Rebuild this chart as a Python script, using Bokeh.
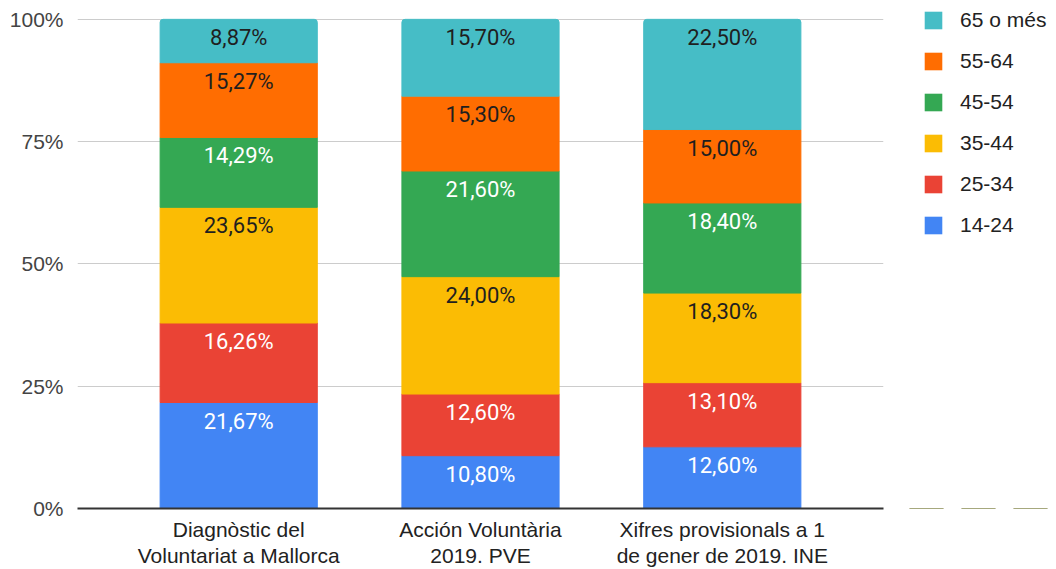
from bokeh.plotting import figure
from bokeh.layouts import row
from bokeh.models import ColumnDataSource, FactorRange, Legend, LegendItem, FixedTicker, Range1d
from bokeh.core.properties import value
from bokeh.embed import file_html
from bokeh.resources import INLINE

categories = ["Diagnòstic del\nVoluntariat a Mallorca",
              "Acción Voluntària\n2019. PVE",
              "Xifres provisionals a 1\nde gener de 2019. INE"]
age_groups = ["14-24", "25-34", "35-44", "45-54", "55-64", "65 o més"]
v_14_24 = [21.67, 10.80, 12.60]
v_25_34 = [16.26, 12.60, 13.10]
v_35_44 = [23.65, 24.00, 18.30]
v_45_54 = [14.29, 21.60, 18.40]
v_55_64 = [15.27, 15.30, 15.00]
v_65_mes = [8.87, 15.70, 22.50]
colors = ["#4285F4", "#EA4335", "#FBBC04", "#34A853", "#FF6D01", "#46BDC6"]
label_colors = ["#ffffff", "#ffffff", "#1f1f1f", "#ffffff", "#1f1f1f", "#1f1f1f"]
y_ticks = [0, 0.25, 0.5, 0.75, 1.0]
y_tick_labels = ["0%", "25%", "50%", "75%", "100%"]

series = [v_14_24, v_25_34, v_35_44, v_45_54, v_55_64, v_65_mes]
totals = [sum(s[j] for s in series) for j in range(len(categories))]

data = {"x": categories}
for name, s in zip(age_groups, series):
    data[name] = [s[j] / totals[j] for j in range(len(categories))]
src = ColumnDataSource(data)

# label positions: top of each segment
lx, ly, lt, lc = [], [], [], []
for j, cat in enumerate(categories):
    cum = 0.0
    for i, s in enumerate(series):
        cum += s[j] / totals[j]
        lx.append(cat)
        ly.append(cum)
        lt.append(f"{s[j]:.2f}".replace(".", ",") + "%")
        lc.append(label_colors[i])
lsrc = ColumnDataSource(dict(x=lx, y=ly, text=lt, color=lc))

H = 569
BOTTOM = 57
TOP_GAP = 19
frame_h = H - BOTTOM
p = figure(x_range=FactorRange(*categories, range_padding=1/6, range_padding_units="absolute"),
           y_range=Range1d(0, frame_h / (frame_h - TOP_GAP)),
           width=900, height=H, output_backend="svg", toolbar_location=None,
           min_border_left=77, min_border_right=17, min_border_top=0, min_border_bottom=BOTTOM)
p.outline_line_color = None
p.background_fill_color = "white"

rs = p.vbar_stack(age_groups, x="x", width=0.65, color=colors, source=src)
rs[-1].glyph.border_radius = (3, 3, 0, 0)

p.text(x="x", y="y", text="text", text_color="color", source=lsrc,
       text_align="center", text_baseline="top", y_offset=6,
       text_font=value("Roboto"), text_font_size="22px")

# axes
p.yaxis.ticker = FixedTicker(ticks=y_ticks)
p.yaxis.major_label_overrides = {t: l for t, l in zip(y_ticks, y_tick_labels)}
p.yaxis.axis_line_color = None
p.yaxis.major_tick_line_color = None
p.yaxis.minor_tick_line_color = None
p.yaxis.major_tick_out = 0
p.yaxis.major_tick_in = 0
p.yaxis.major_label_standoff = 14
p.yaxis.major_label_text_font = "Liberation Sans"
p.yaxis.major_label_text_font_size = "21px"
p.yaxis.major_label_text_color = "#444444"

p.xaxis.axis_line_color = "#333333"
p.xaxis.axis_line_width = 2
p.xaxis.major_tick_line_color = None
p.xaxis.major_tick_out = 0
p.xaxis.major_tick_in = 0
p.xaxis.major_label_standoff = 9
p.xaxis.major_label_text_font = "Liberation Sans"
p.xaxis.major_label_text_font_size = "21px"
p.xaxis.major_label_text_color = "#222222"
p.xaxis.major_label_text_line_height = 1.15

p.xgrid.grid_line_color = None
p.ygrid.grid_line_color = "#cccccc"
p.ygrid.grid_line_width = 1

# legend panel (separate figure so it is not clipped by the chart frame);
# its renderers are zero-height, unstroked bars outside the visible range
lp = figure(x_range=FactorRange(*categories), y_range=Range1d(2, 3),
            width=156, height=H, output_backend="svg", toolbar_location=None,
            x_axis_location=None, y_axis_location=None,
            min_border_left=0, min_border_right=0, min_border_top=0, min_border_bottom=0)
lp.outline_line_color = None
lp.xgrid.grid_line_color = None
lp.ygrid.grid_line_color = None
legend_renderers = [lp.vbar(x="x", top=0, bottom=0, width=0.65, fill_color=c,
                            line_color=None, source=src)
                    for c in colors]
items = [LegendItem(label=age_groups[i], renderers=[legend_renderers[i]])
         for i in reversed(range(len(age_groups)))]
legend = Legend(items=items, location=(22, 271), glyph_width=22, glyph_height=22,
                label_standoff=16, spacing=17, padding=0, margin=0,
                border_line_color=None, background_fill_alpha=0,
                label_text_font="Liberation Sans", label_text_font_size="21px",
                label_text_color="#222222", label_height=24)
lp.add_layout(legend)

open("out.html", "w").write(file_html(row(p, lp), INLINE))
